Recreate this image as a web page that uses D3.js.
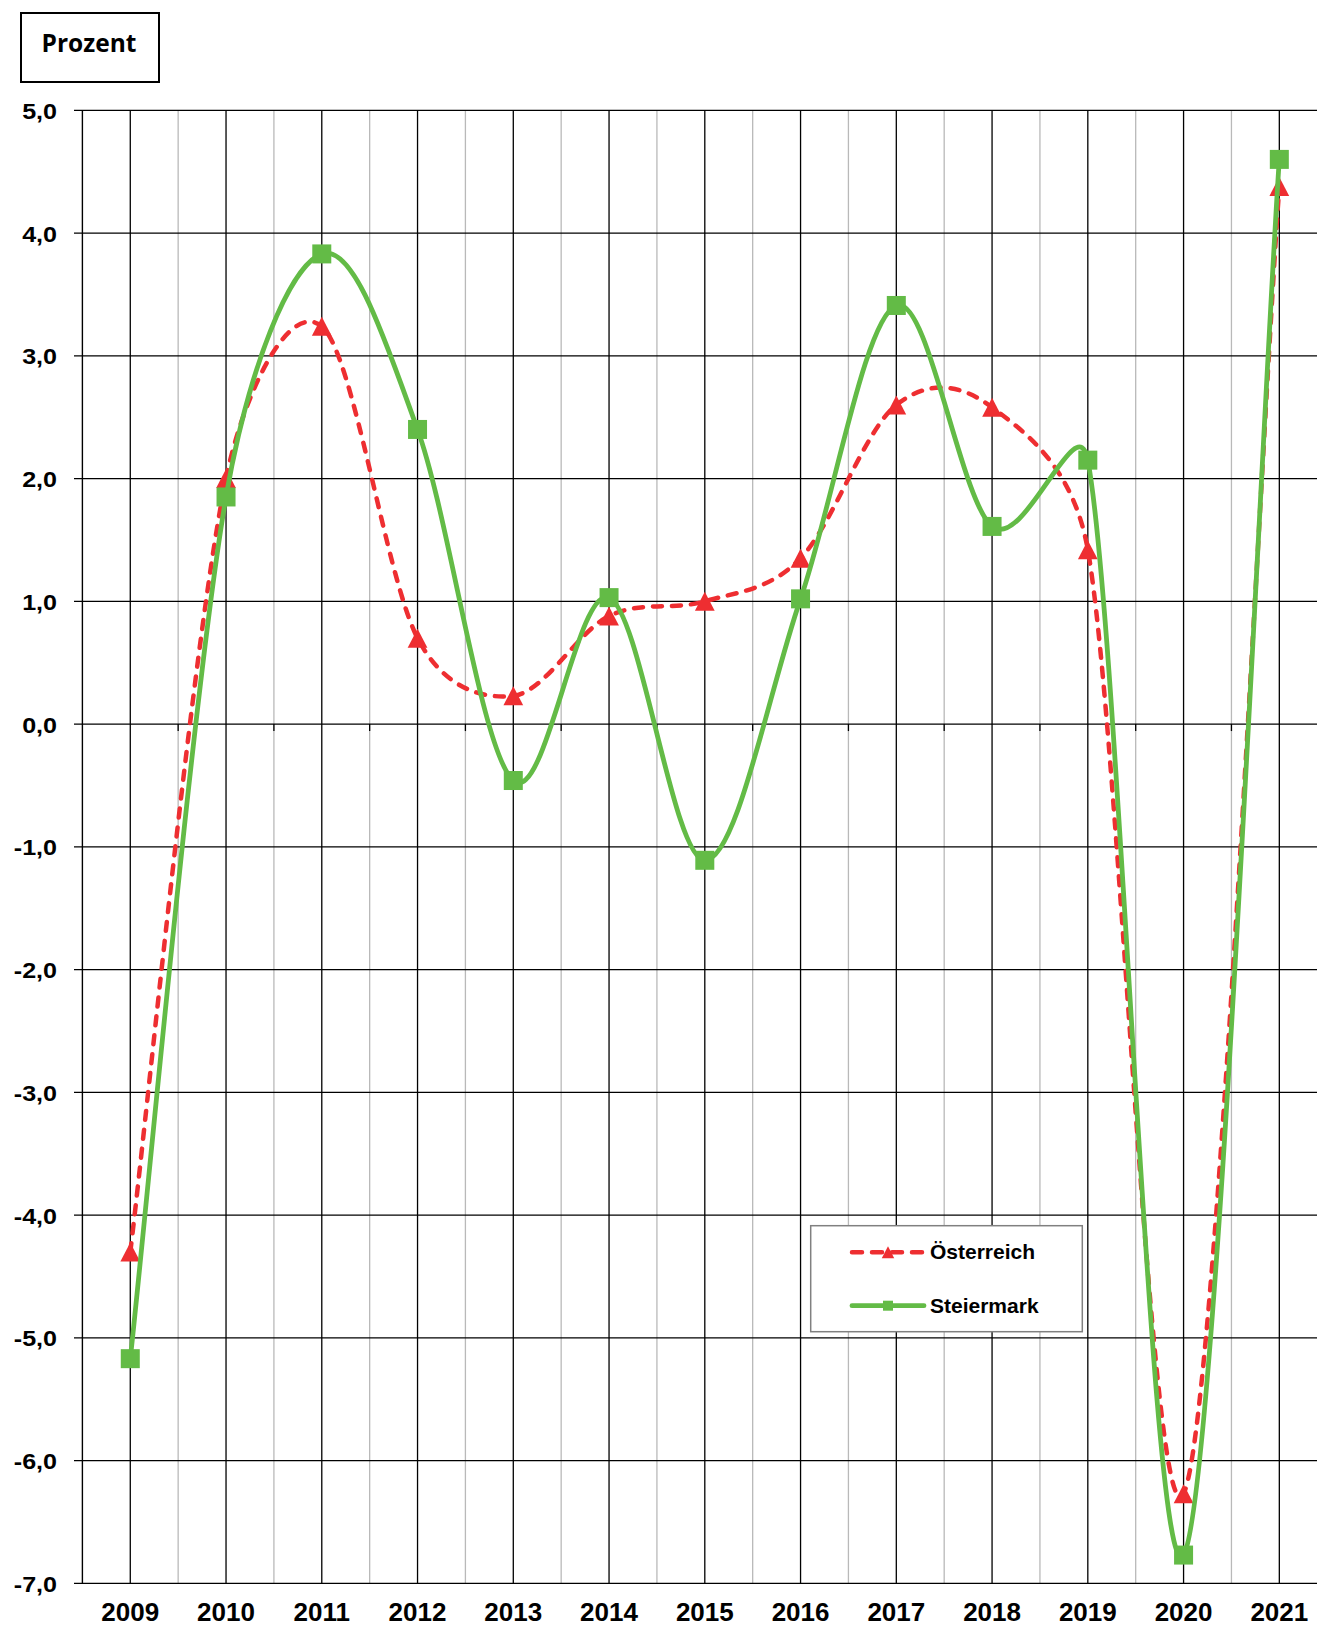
<!DOCTYPE html>
<html><head><meta charset="utf-8">
<script src="https://cdn.jsdelivr.net/npm/d3@7"></script>
<style>
html,body{margin:0;padding:0;background:#fff;}
svg{display:block;}
</style></head>
<body>
<script>
const years = ["2009","2010","2011","2012","2013","2014","2015","2016","2017","2018","2019","2020","2021"];
const oesterreich = [-4.3, 2.0, 3.24, 0.7, 0.23, 0.88, 1.0, 1.35, 2.6, 2.58, 1.42, -6.27, 4.38];
const steiermark = [-5.17, 1.85, 3.83, 2.4, -0.46, 1.03, -1.11, 1.02, 3.41, 1.61, 2.15, -6.77, 4.6];
const yTicks = [5,4,3,2,1,0,-1,-2,-3,-4,-5,-6,-7];
const seriesNames = ["Österreich","Steiermark"];

const W = 1317, H = 1627;
const svg = d3.select("body").append("svg").attr("width", W).attr("height", H);

const x = d3.scaleBand().domain(years).range([82.4, 1327.2]).padding(0);
const cx = d => x(d) + x.bandwidth()/2;
const y = d3.scaleLinear().domain([-7, 5]).range([1583.3, 110.3]);
const fmt = v => d3.format(".1f")(v).replace(".", ",").replace("−","-");

const RED = "#ee2e31", GREEN = "#63bb46";

// gray boundary gridlines
svg.append("g").selectAll("line").data(d3.range(1, years.length+1))
  .join("line")
  .attr("x1", i => x(years[0]) + i*x.bandwidth())
  .attr("x2", i => x(years[0]) + i*x.bandwidth())
  .attr("y1", y(5)).attr("y2", y(-7))
  .attr("stroke", "#b9b9b9").attr("stroke-width", 1.3);

// black center gridlines
svg.append("g").selectAll("line").data(years).join("line")
  .attr("x1", d => cx(d)).attr("x2", d => cx(d))
  .attr("y1", y(5)).attr("y2", y(-7))
  .attr("stroke", "#000").attr("stroke-width", 1.3);

// horizontal gridlines + tick marks
svg.append("g").selectAll("line").data(yTicks).join("line")
  .attr("x1", 74).attr("x2", W+10)
  .attr("y1", d => y(d)).attr("y2", d => y(d))
  .attr("stroke", "#000").attr("stroke-width", 1.3);

// value axis line
svg.append("line").attr("x1", x.range()[0]).attr("x2", x.range()[0])
  .attr("y1", y(5)).attr("y2", y(-7)).attr("stroke", "#000").attr("stroke-width", 1.4);

// category axis tick marks on zero line
svg.append("g").selectAll("line").data(d3.range(1, years.length+1)).join("line")
  .attr("x1", i => x(years[0]) + i*x.bandwidth())
  .attr("x2", i => x(years[0]) + i*x.bandwidth())
  .attr("y1", y(0)).attr("y2", y(0)+7)
  .attr("stroke", "#000").attr("stroke-width", 1.3);

// y labels
svg.append("g").selectAll("text").data(yTicks).join("text")
  .attr("transform", d => `translate(57,${y(d)+8.5}) scale(1.14,1)`)
  .attr("text-anchor", "end")
  .attr("font-family", "'Liberation Sans', Arial, sans-serif")
  .attr("font-weight", "bold").attr("font-size", 22)
  .text(d => fmt(d));

// x labels
svg.append("g").selectAll("text").data(years).join("text")
  .attr("x", d => cx(d)).attr("y", 1621)
  .attr("text-anchor", "middle")
  .attr("font-family", "'Liberation Sans', Arial, sans-serif")
  .attr("font-weight", "bold").attr("font-size", 26)
  .text(d => d);

// Excel-like smoothing curve
function excelSmooth(pts) {
  const p = d3.path();
  if (!pts.length) return "";
  p.moveTo(pts[0][0], pts[0][1]);
  const dist = (a,b) => Math.hypot(a[0]-b[0], a[1]-b[1]);
  for (let i = 0; i < pts.length-1; i++) {
    const P0 = pts[Math.max(0,i-1)], P1 = pts[i], P2 = pts[i+1], P3 = pts[Math.min(pts.length-1, i+2)];
    const d12 = dist(P1,P2), d02 = dist(P0,P2), d13 = dist(P1,P3);
    let f = 1/6, g = 1/6;
    if (d02/6 >= d12/2 && d02 > 0) f = d12/(2*d02);
    if (d13/6 >= d12/2 && d13 > 0) g = d12/(2*d13);
    const c1 = [P1[0] + f*(P2[0]-P0[0]), P1[1] + f*(P2[1]-P0[1])];
    const c2 = [P2[0] - g*(P3[0]-P1[0]), P2[1] - g*(P3[1]-P1[1])];
    p.bezierCurveTo(c1[0], c1[1], c2[0], c2[1], P2[0], P2[1]);
  }
  return p.toString();
}

const ptsR = years.map((d,i) => [cx(d), y(oesterreich[i])]);
const ptsG = years.map((d,i) => [cx(d), y(steiermark[i])]);

const tri = (s) => `M0,${-s*0.5}L${s*0.52},${s*0.5}L${-s*0.52},${s*0.5}Z`;

// Österreich
svg.append("path").attr("d", excelSmooth(ptsR))
  .attr("fill", "none").attr("stroke", RED).attr("stroke-width", 4.5)
  .attr("stroke-dasharray", "9 10").attr("stroke-linecap", "round");
svg.append("g").selectAll("path").data(years).join("path")
  .attr("transform", (d,i) => `translate(${cx(d)},${y(oesterreich[i])})`)
  .attr("d", tri(19)).attr("fill", RED);

// Steiermark
svg.append("path").attr("d", excelSmooth(ptsG))
  .attr("fill", "none").attr("stroke", GREEN).attr("stroke-width", 4.8);
svg.append("g").selectAll("rect").data(years).join("rect")
  .attr("x", d => cx(d) - 9.5).attr("y", (d,i) => y(steiermark[i]) - 9.5)
  .attr("width", 19).attr("height", 19).attr("fill", GREEN);

// Prozent box
svg.append("rect").attr("x", 21).attr("y", 13).attr("width", 138).attr("height", 69)
  .attr("fill", "#fff").attr("stroke", "#000").attr("stroke-width", 2);
svg.append("text").attr("x", 89).attr("y", 51.5).attr("text-anchor", "middle")
  .attr("font-family", "'Open Sans', sans-serif").attr("font-weight", "bold")
  .attr("font-size", 24.5).text("Prozent");

// Legend
const lg = svg.append("g");
lg.append("rect").attr("x", 810.7).attr("y", 1225.7).attr("width", 271.6).attr("height", 106)
  .attr("fill", "#fff").attr("stroke", "#808080").attr("stroke-width", 1.5);
const legY = [1252.3, 1305.7];
lg.append("line").attr("x1", 852).attr("x2", 924).attr("y1", legY[0]).attr("y2", legY[0])
  .attr("stroke", RED).attr("stroke-width", 4.5).attr("stroke-dasharray", "10 10")
  .attr("stroke-linecap", "round");
lg.append("path").attr("transform", `translate(888,${legY[0]})`).attr("d", tri(12)).attr("fill", RED);
lg.append("line").attr("x1", 852).attr("x2", 924).attr("y1", legY[1]).attr("y2", legY[1])
  .attr("stroke", GREEN).attr("stroke-width", 4.8).attr("stroke-linecap", "round");
lg.append("rect").attr("x", 883).attr("y", legY[1]-5).attr("width", 10).attr("height", 10).attr("fill", GREEN);
lg.selectAll("text").data(seriesNames).join("text")
  .attr("x", 930).attr("y", (d,i) => legY[i] + 7)
  .attr("font-family", "'Liberation Sans', Arial, sans-serif")
  .attr("font-weight", "bold").attr("font-size", 21)
  .text(d => d);
</script>
</body></html>
